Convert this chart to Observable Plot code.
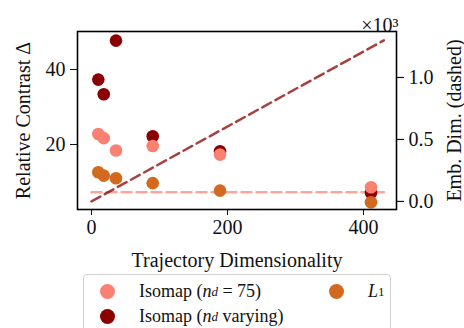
<!DOCTYPE html>
<html>
<head>
<meta charset="utf-8">
<script src="https://cdn.jsdelivr.net/npm/d3@7"></script>
<script src="https://cdn.jsdelivr.net/npm/@observablehq/plot@0.6"></script>
<style>
  body { margin: 0; background: white; font-family: "Liberation Serif", "Times New Roman", serif; }
  #wrap { position: relative; width: 464px; height: 328px; overflow: hidden; }
  #wrap svg { position: absolute; left: 0; top: 0; }
  #wrap svg text { font-family: "Liberation Serif", "Times New Roman", serif; }
  #legend { position: absolute; left: 83px; top: 274px; width: 308px; height: 70px; border: 1.3px solid #d0d0d0; border-radius: 4px; box-sizing: border-box; font-size: 18px; color: #111; }
  .item { position: absolute; display: flex; align-items: center; white-space: nowrap; }
  .dot { width: 15px; height: 15px; border-radius: 50%; display: inline-block; margin-right: 24px; }
  sub { font-size: 72%; vertical-align: -0.3em; line-height: 0; }
</style>
</head>
<body>
<div id="wrap"></div>
<script>
// Data
const trajDims = [10, 18, 36, 90, 189, 411];
const isomap75 = [22.8, 21.7, 18.4, 19.6, 17.3, 8.6];
const isomapVar = [37.3, 33.4, 47.7, 22.2, 18.2, 7.1];
const l1 = [12.6, 11.7, 11.0, 9.7, 7.7, 4.6];
const embLineX = [0, 430];
const embVar = [0, 1300];
const emb75 = [75, 75];
const xTicks = [0, 200, 400];
const yTicks = [20, 40];
const y2Ticks = [0, 500, 1000];

const colVar = "#8b0000", col75 = "#fa8072", colL1 = "#d2691e";

const W = 464, H = 272;
const margins = { marginLeft: 77, marginRight: 68, marginTop: 31, marginBottom: 63 };
const xDomain = [-20.6, 448.5];
const font = '"Liberation Serif", "Times New Roman", serif';

const pts = (ys, s) => trajDims.map((x, i) => ({ x, y: ys[i], s }));
const points = [...pts(isomapVar, "var"), ...pts(isomap75, "75"), ...pts(l1, "l1")];
const lines = [
  ...embLineX.map((x, i) => ({ x, y: embVar[i], s: "var" })),
  ...embLineX.map((x, i) => ({ x, y: emb75[i], s: "75" }))
];

// Bottom layer: dashed embedding-dimension lines with right axis
const back = Plot.plot({
  width: W, height: H, ...margins,
  style: { fontFamily: font, fontSize: "20px", background: "white", color: "#111" },
  x: { domain: xDomain, axis: null },
  y: { domain: [-65, 1371] },
  marks: [
    Plot.line(lines.filter(d => d.s === "75"), { x: "x", y: "y", stroke: col75, strokeOpacity: 0.7, strokeWidth: 2.5, strokeDasharray: "10,5" }),
    Plot.line(lines.filter(d => d.s === "var"), { x: "x", y: "y", stroke: colVar, strokeOpacity: 0.75, strokeWidth: 2.5, strokeDasharray: "10,5" }),
    Plot.axisY({ anchor: "right", ticks: y2Ticks, tickFormat: d => (d / 1000).toFixed(1), tickSize: 7, tickPadding: 5, label: "Emb. Dim. (dashed)", labelAnchor: "center", labelOffset: 64, labelArrow: "none", strokeWidth: 1.2 }),
    Plot.text(["×10³"], { frameAnchor: "top-right", dy: -14, dx: 2, textAnchor: "end", fontSize: 20 })
  ]
});

// Top layer: points, left & bottom axes, frame
const front = Plot.plot({
  width: W, height: H, ...margins,
  style: { fontFamily: font, fontSize: "20px", background: "transparent", color: "#111" },
  x: { domain: xDomain },
  y: { domain: [2.67, 50.13] },
  marks: [
    Plot.dot(points, { x: "x", y: "y", r: 6.3, fill: d => d.s === "var" ? colVar : d.s === "75" ? col75 : colL1 }),
    Plot.axisX({ ticks: xTicks, tickSize: 6, tickPadding: 4, label: "Trajectory Dimensionality", labelAnchor: "center", labelOffset: 57, labelArrow: "none" }),
    Plot.axisY({ ticks: yTicks, tickSize: 7, tickPadding: 5, label: "Relative Contrast Δ", labelAnchor: "center", labelOffset: 62, labelArrow: "none" }),
    Plot.frame({ stroke: "black", strokeWidth: 1.6 })
  ]
});

const wrap = document.getElementById("wrap");
wrap.appendChild(back);
wrap.appendChild(front);

const legend = document.createElement("div");
legend.id = "legend";
legend.innerHTML = `
  <div class="item" style="left:16px;top:6px"><span class="dot" style="background:${col75}"></span>Isomap (<i>n</i><sub><i>d</i></sub>&nbsp;=&nbsp;75)</div>
  <div class="item" style="left:16px;top:31px"><span class="dot" style="background:${colVar}"></span>Isomap (<i>n</i><sub><i>d</i></sub>&nbsp;varying)</div>
  <div class="item" style="left:245px;top:6px"><span class="dot" style="background:${colL1}"></span><i>L</i><sub>1</sub></div>
`;
wrap.appendChild(legend);
</script>
</body>
</html>
